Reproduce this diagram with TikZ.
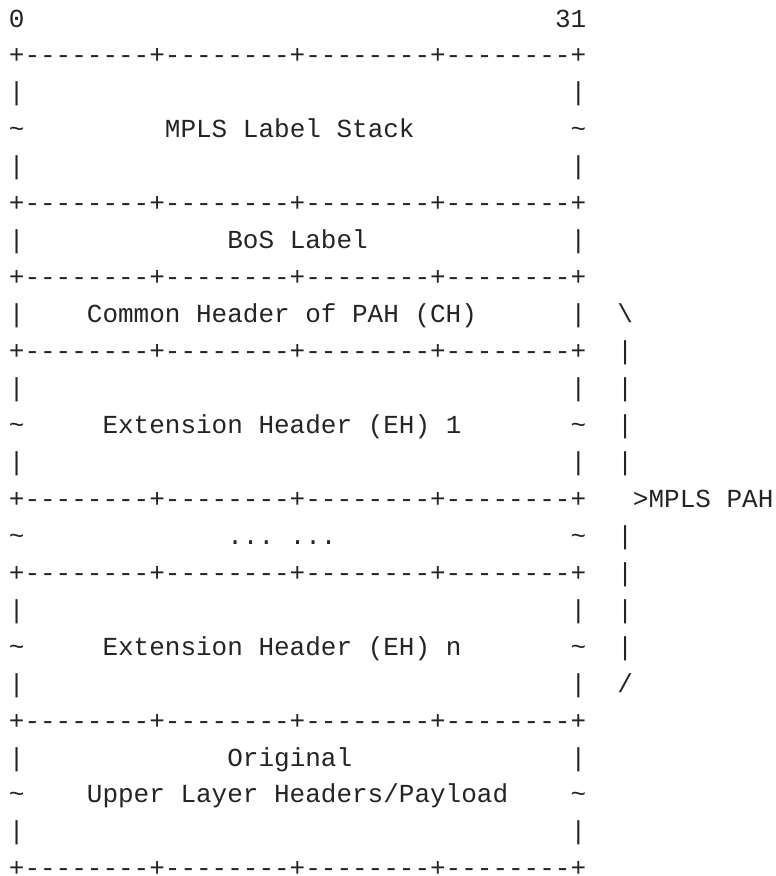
\documentclass[tikz,border=0pt]{standalone}
\usepackage{fontspec}
\setmonofont{Liberation Mono}
\definecolor{ink}{RGB}{36,36,36}
\newlength\cw
\setlength\cw{15.663pt}
\newcommand\sk[1]{\hspace*{#1\cw}}
\newcommand\tl{\textasciitilde}
\newcommand\rl{+--------+--------+--------+--------+}
\tikzset{
  asc/.style={anchor=base west, inner sep=0pt, outer sep=0pt, text=ink,
    font=\ttfamily\fontsize{26.1pt}{37pt}\selectfont}
}
\newcommand\asline[3]{\node[asc] (#1) at (8.9bp,{-(27+36.95*(#2-1))*1bp}) {#3};}
\begin{document}
\begin{tikzpicture}
\useasboundingbox (0,0) rectangle (776bp,-876bp);
\asline{l1}{1}{0\sk{34}31}
\asline{l2}{2}{\rl}
\asline{l3}{3}{|\sk{35}|}
\asline{l4}{4}{\tl\sk{9}MPLS Label Stack\sk{10}\tl}
\asline{l5}{5}{|\sk{35}|}
\asline{l6}{6}{\rl}
\asline{l7}{7}{|\sk{13}BoS Label\sk{13}|}
\asline{l8}{8}{\rl}
\asline{l9}{9}{|\sk{4}Common Header of PAH (CH)\sk{6}|\sk{2}\textbackslash}
\asline{l10}{10}{\rl\sk{2}|}
\asline{l11}{11}{|\sk{35}|\sk{2}|}
\asline{l12}{12}{\tl\sk{5}Extension Header (EH) 1\sk{7}\tl\sk{2}|}
\asline{l13}{13}{|\sk{35}|\sk{2}|}
\asline{l14}{14}{\rl\sk{3}>MPLS PAH}
\asline{l15}{15}{\tl\sk{13}... ...\sk{15}\tl\sk{2}|}
\asline{l16}{16}{\rl\sk{2}|}
\asline{l17}{17}{|\sk{35}|\sk{2}|}
\asline{l18}{18}{\tl\sk{5}Extension Header (EH) n\sk{7}\tl\sk{2}|}
\asline{l19}{19}{|\sk{35}|\sk{2}/}
\asline{l20}{20}{\rl}
\asline{l21}{21}{|\sk{13}Original\sk{14}|}
\asline{l22}{22}{\tl\sk{4}Upper Layer Headers/Payload\sk{4}\tl}
\asline{l23}{23}{|\sk{35}|}
\asline{l24}{24}{\rl}
\end{tikzpicture}
\end{document}
